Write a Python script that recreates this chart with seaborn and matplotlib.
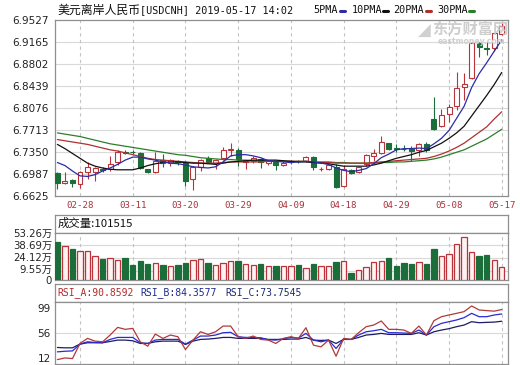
import numpy as np
import pandas as pd
import matplotlib
matplotlib.use("Agg")
import matplotlib.pyplot as plt
import matplotlib.transforms as mtransforms
import seaborn as sns

# ---- data ----
dates = pd.bdate_range("2019-02-25", "2019-05-17")
tick_pos = [3, 10, 17, 24, 31, 38, 45, 52, 59]
tick_labels = ["02-28", "03-11", "03-20", "03-29", "04-09", "04-18", "04-29", "05-08", "05-17"]

price_ticks = [6.6625, 6.6987, 6.7350, 6.7713, 6.8076, 6.8439, 6.8802, 6.9165, 6.9527]

opens = [6.7003, 6.6830, 6.6875, 6.6820, 6.7020, 6.7010, 6.7070, 6.7060, 6.7180, 6.7350,
         6.7350, 6.7330, 6.7060, 6.7020, 6.7220, 6.7160, 6.7190, 6.7160, 6.6890, 6.7100,
         6.7240, 6.7160, 6.7240, 6.7370, 6.7380, 6.7180, 6.7190, 6.7230, 6.7160, 6.7180,
         6.7130, 6.7180, 6.7200, 6.7190, 6.7260, 6.7060, 6.7060, 6.7100, 6.6780, 6.7050,
         6.7010, 6.7140, 6.7270, 6.7330, 6.7490, 6.7405, 6.7400, 6.7410, 6.7370, 6.7480,
         6.7890, 6.7770, 6.7980, 6.8110, 6.8420, 6.8570, 6.9150, 6.9060, 6.9060, 6.9300]
highs = [6.7015, 6.7010, 6.6895, 6.7030, 6.7180, 6.7100, 6.7100, 6.7270, 6.7370, 6.7370,
         6.7380, 6.7350, 6.7070, 6.7350, 6.7310, 6.7230, 6.7220, 6.7200, 6.7110, 6.7230,
         6.7280, 6.7230, 6.7420, 6.7500, 6.7410, 6.7210, 6.7270, 6.7240, 6.7220, 6.7200,
         6.7200, 6.7210, 6.7220, 6.7270, 6.7280, 6.7090, 6.7150, 6.7150, 6.7130, 6.7060,
         6.7110, 6.7310, 6.7400, 6.7610, 6.7500, 6.7480, 6.7460, 6.7440, 6.7490, 6.7510,
         6.8250, 6.8050, 6.8140, 6.8660, 6.8650, 6.9160, 6.9170, 6.9160, 6.9320, 6.9480]
lows = [6.6735, 6.6820, 6.6760, 6.6750, 6.6890, 6.6860, 6.7020, 6.7030, 6.7130, 6.7310,
        6.7310, 6.7060, 6.6990, 6.7000, 6.7100, 6.7120, 6.7130, 6.6790, 6.6710, 6.7030,
        6.7160, 6.7070, 6.7220, 6.7270, 6.7120, 6.7070, 6.7170, 6.7080, 6.7130, 6.7040,
        6.7110, 6.7150, 6.7170, 6.7180, 6.7040, 6.7030, 6.7040, 6.6750, 6.6760, 6.6980,
        6.6990, 6.7110, 6.7200, 6.7310, 6.7370, 6.7340, 6.7360, 6.7200, 6.7280, 6.7350,
        6.7700, 6.7750, 6.7840, 6.8040, 6.8200, 6.8550, 6.8910, 6.8950, 6.9010, 6.9280]
closes = [6.6835, 6.6862, 6.6830, 6.7010, 6.7100, 6.7080, 6.7050, 6.7150, 6.7340, 6.7335,
          6.7340, 6.7080, 6.7010, 6.7200, 6.7170, 6.7210, 6.7180, 6.6870, 6.7090, 6.7210,
          6.7180, 6.7210, 6.7380, 6.7390, 6.7230, 6.7190, 6.7250, 6.7180, 6.7200, 6.7130,
          6.7170, 6.7190, 6.7190, 6.7260, 6.7090, 6.7070, 6.7130, 6.6760, 6.7070, 6.7000,
          6.7090, 6.7290, 6.7330, 6.7510, 6.7400, 6.7395, 6.7390, 6.7360, 6.7480, 6.7370,
          6.7730, 6.7960, 6.8090, 6.8400, 6.8470, 6.9140, 6.9080, 6.9040, 6.9310, 6.9430]

ma5 = [6.717, 6.712, 6.703, 6.695, 6.694, 6.697, 6.703, 6.708, 6.714, 6.721,
       6.726, 6.726, 6.723, 6.721, 6.718, 6.716, 6.715, 6.713, 6.710, 6.709,
       6.708, 6.710, 6.718, 6.728, 6.730, 6.730, 6.728, 6.725, 6.720, 6.719,
       6.718, 6.717, 6.718, 6.719, 6.718, 6.716, 6.714, 6.708, 6.704, 6.702,
       6.704, 6.707, 6.715, 6.725, 6.731, 6.738, 6.740, 6.740, 6.741, 6.740,
       6.748, 6.757, 6.770, 6.790, 6.810, 6.841, 6.864, 6.882, 6.901, 6.920]
ma10 = [6.747, 6.740, 6.732, 6.724, 6.716, 6.711, 6.708, 6.706, 6.705, 6.705,
        6.705, 6.708, 6.712, 6.715, 6.717, 6.718, 6.718, 6.717, 6.716, 6.716,
        6.715, 6.714, 6.716, 6.718, 6.719, 6.720, 6.721, 6.721, 6.721, 6.721,
        6.720, 6.719, 6.718, 6.718, 6.717, 6.716, 6.715, 6.713, 6.711, 6.711,
        6.711, 6.711, 6.713, 6.716, 6.720, 6.724, 6.727, 6.730, 6.734, 6.737,
        6.743, 6.749, 6.757, 6.766, 6.777, 6.794, 6.811, 6.828, 6.846, 6.866]
ma20 = [6.755, 6.753, 6.751, 6.749, 6.747, 6.744, 6.741, 6.738, 6.736, 6.733,
        6.730, 6.727, 6.724, 6.722, 6.721, 6.720, 6.719, 6.718, 6.717, 6.716,
        6.716, 6.716, 6.717, 6.718, 6.718, 6.718, 6.718, 6.718, 6.719, 6.719,
        6.719, 6.719, 6.719, 6.719, 6.718, 6.717, 6.717, 6.716, 6.716, 6.716,
        6.716, 6.716, 6.717, 6.718, 6.719, 6.720, 6.721, 6.722, 6.723, 6.724,
        6.727, 6.731, 6.736, 6.742, 6.749, 6.758, 6.767, 6.776, 6.789, 6.801]
ma30 = [6.766, 6.764, 6.762, 6.760, 6.757, 6.754, 6.751, 6.748, 6.746, 6.744,
        6.742, 6.740, 6.738, 6.736, 6.734, 6.732, 6.730, 6.729, 6.727, 6.725,
        6.724, 6.723, 6.722, 6.722, 6.721, 6.721, 6.720, 6.720, 6.719, 6.719,
        6.719, 6.719, 6.719, 6.719, 6.718, 6.718, 6.718, 6.717, 6.717, 6.716,
        6.716, 6.716, 6.716, 6.717, 6.717, 6.718, 6.718, 6.719, 6.720, 6.721,
        6.723, 6.726, 6.730, 6.734, 6.738, 6.744, 6.750, 6.756, 6.764, 6.772]

# volume in 万
volume = [43.0, 38.3, 34.9, 32.7, 32.7, 27.0, 23.6, 24.8, 22.5, 25.1,
          16.9, 21.8, 18.0, 19.5, 16.9, 15.8, 16.9, 19.5, 22.5, 23.6,
          19.5, 16.9, 19.5, 21.4, 21.4, 18.0, 16.9, 18.0, 15.8, 15.8,
          15.8, 15.8, 16.9, 13.1, 18.0, 15.8, 15.8, 20.6, 21.4, 7.5,
          11.3, 14.3, 20.6, 21.4, 24.4, 15.8, 19.5, 18.0, 19.9, 18.0,
          34.9, 27.0, 29.3, 40.5, 48.0, 31.9, 27.0, 28.1, 22.5, 14.3]
vol_ticks = [0, 9.55, 24.12, 38.69, 53.26]
vol_labels = ["0", "9.55万", "24.12万", "38.69万", "53.26万"]

rsi_a = [17.7, 20.1, 19.2, 41.3, 48.7, 44.7, 43.7, 53.6, 64.8, 61.9,
         63.3, 43.7, 37.3, 55.0, 48.7, 53.6, 51.1, 32.4, 46.2, 58.4,
         54.5, 58.4, 66.7, 66.7, 51.1, 48.7, 52.1, 47.2, 46.2, 41.3,
         48.7, 51.1, 48.7, 64.3, 38.8, 36.3, 46.2, 22.6, 48.7, 47.2,
         57.0, 65.8, 68.2, 74.1, 61.9, 61.9, 60.9, 56.0, 66.7, 53.6,
         74.6, 80.4, 82.9, 85.3, 87.8, 96.1, 90.2, 89.3, 88.5, 90.86]
rsi_b = [29.0, 29.9, 30.4, 40.3, 43.7, 42.8, 42.3, 47.2, 50.1, 50.1,
         50.1, 42.3, 41.3, 46.2, 47.2, 47.2, 47.2, 40.3, 46.2, 52.1,
         52.1, 53.6, 57.0, 57.5, 51.1, 50.1, 50.1, 49.6, 46.7, 46.2,
         48.2, 50.1, 49.1, 56.0, 46.2, 43.7, 46.2, 34.0, 47.2, 47.2,
         53.6, 58.4, 59.9, 61.9, 57.0, 57.0, 56.5, 56.0, 60.9, 53.6,
         65.8, 70.7, 73.1, 75.6, 79.0, 85.3, 80.4, 80.4, 82.9, 84.36]
rsi_c = [35.4, 34.9, 34.9, 40.3, 42.3, 42.3, 42.3, 44.2, 46.2, 46.2,
         45.2, 41.3, 41.3, 43.7, 44.7, 44.7, 44.7, 39.8, 44.7, 47.2,
         47.7, 48.7, 50.1, 50.1, 48.7, 48.7, 48.7, 48.7, 47.2, 47.2,
         47.2, 47.7, 47.7, 50.1, 46.2, 45.7, 46.2, 41.3, 47.2, 47.2,
         50.1, 53.6, 54.5, 56.0, 54.5, 54.5, 54.5, 54.5, 57.0, 53.6,
         58.4, 60.9, 62.9, 65.8, 68.2, 73.1, 71.6, 72.1, 72.5, 73.75]
rsi_ticks = [12, 56, 99]

# ---- style ----
RED = "#b8333a"
GREEN = "#1b6e3a"
GRID = "#d9d9d9"
DASH = "#c4c4c4"
BORDER = "#8f8f8f"
DATE_RED = "#a8323a"

sns.set_theme(style="white")
plt.rcParams["font.family"] = ["DejaVu Sans", "Noto Sans CJK SC"]

W, H = 520, 365
fig = plt.figure(figsize=(W / 100, H / 100), dpi=100)
fig.patch.set_facecolor("white")


def box(x0, y0, x1, y1):
    return [x0 / W, 1 - y1 / H, (x1 - x0) / W, (y1 - y0) / H]


def ftext(x, y, s, **kw):
    fig.text(x / W, 1 - y / H, s, va="center", **kw)


def nudge(label, dy_px):
    # shift a tick label up (positive) by a few pixels
    off = mtransforms.ScaledTranslation(0, dy_px / 100, fig.dpi_scale_trans)
    label.set_transform(label.get_transform() + off)


idx = np.arange(len(dates))
XLIM = (-0.32, 59.83)


def frame(ax):
    ax.set_xlim(*XLIM)
    ax.set_facecolor("white")
    for sp in ax.spines.values():
        sp.set_color(BORDER)
        sp.set_linewidth(0.9)
    ax.grid(False)


def dashed_vlines(ax, lo, hi):
    ax.vlines(tick_pos, lo, hi, colors=DASH, linewidth=0.8,
              linestyles=(0, (3, 3)), zorder=1)


# ---- price panel ----
ax = fig.add_axes(box(55, 20, 508, 195.5))
frame(ax)
ax.set_ylim(price_ticks[0], price_ticks[-1])
ax.hlines(price_ticks[1:-1], *XLIM, colors=GRID, linewidth=0.8, zorder=1)
dashed_vlines(ax, price_ticks[0], price_ticks[-1])

o, h, l, c = map(np.array, (opens, highs, lows, closes))
up = c >= o
body_lo = np.minimum(o, c)
body_h = np.maximum(np.abs(c - o), 0.0005)
ax.vlines(idx, l, h, colors=np.where(up, RED, GREEN), linewidth=0.8, zorder=3)
ax.bar(idx[up], body_h[up], bottom=body_lo[up], width=0.66,
       facecolor="white", edgecolor=RED, linewidth=0.8, zorder=4)
ax.bar(idx[~up], body_h[~up], bottom=body_lo[~up], width=0.66,
       facecolor=GREEN, edgecolor=GREEN, linewidth=0.8, zorder=4)

ma_df = pd.DataFrame({"i": idx, "ma5": ma5, "ma10": ma10, "ma20": ma20, "ma30": ma30})
for col, colr in [("ma30", "#2b7f2b"), ("ma20", "#b03030"), ("ma10", "#111111"), ("ma5", "#2c2ca8")]:
    sns.lineplot(data=ma_df, x="i", y=col, ax=ax, color=colr, linewidth=0.9,
                 legend=False, zorder=5)

ax.set_yticks(price_ticks)
ax.set_yticklabels([f"{v:.4f}" for v in price_ticks], fontsize=7.5, color="#222222")
nudge(ax.get_yticklabels()[-1], -2)
ax.set_xticks(tick_pos)
ax.set_xticklabels(tick_labels, fontsize=6.6, color=DATE_RED, family="DejaVu Sans Mono")
ax.tick_params(axis="y", length=3, width=0.8, color=BORDER, pad=1.5)
ax.tick_params(axis="x", length=0, pad=4)
ax.set_xlabel("")
ax.set_ylabel("")

# watermark
ftext(470, 29, "东方财富网", fontsize=11, color="#c9c9c9", ha="center",
      family=["Noto Sans CJK SC"], fontweight="bold", alpha=0.9)
ftext(471, 41, "eastmoney.com", fontsize=5.5, color="#cfcfcf", ha="center", fontweight="bold")
ftext(424, 31, "◢", fontsize=12, color="#d0d0d0", ha="center", family=["DejaVu Sans"])

# title + legend
ftext(57, 10, "美元离岸人民币", fontsize=8.6, color="#111111", family=["Noto Sans CJK SC"])
ftext(140, 10, "[USDCNH] 2019-05-17 14:02", fontsize=7.3, color="#111111", family="DejaVu Sans Mono")
leg = [("5PMA", 313, 340, "#2c2ca8"), ("10PMA", 352, 383, "#111111"),
       ("20PMA", 393, 426, "#b03030"), ("30PMA", 437, 469, "#2b7f2b")]
for name, xt, xd, colr in leg:
    ftext(xt, 10, name, fontsize=7.3, color="#111111", family="DejaVu Sans Mono")
    fig.add_artist(plt.Line2D([xd / W, (xd + 5) / W], [1 - 10.5 / H] * 2,
                              color=colr, linewidth=2.2, transform=fig.transFigure))

# ---- volume panel ----
axvh = fig.add_axes(box(55, 215, 508, 232.5))
frame(axvh)
axvh.set_xticks([])
axvh.set_yticks([])
ftext(58, 223.5, "成交量:101515", fontsize=8.2, color="#111111", family=["Noto Sans CJK SC"])

axv = fig.add_axes(box(55, 232.5, 508, 280))
frame(axv)
axv.set_ylim(0, vol_ticks[-1])
axv.hlines(vol_ticks[1:-1], *XLIM, colors=GRID, linewidth=0.8, zorder=1)
dashed_vlines(axv, 0, vol_ticks[-1])
vol = np.array(volume)
axv.bar(idx[up], vol[up], width=0.72, facecolor="#fff2f2", edgecolor=RED, linewidth=0.9, zorder=3)
axv.bar(idx[~up], vol[~up], width=0.72, facecolor=GREEN, edgecolor=GREEN, linewidth=0.9, zorder=3)
axv.set_xticks([])
axv.set_yticks(vol_ticks)
axv.set_yticklabels(vol_labels, fontsize=7.3, color="#222222")
axv.tick_params(axis="y", length=0, pad=2)
for lab, dy in zip(axv.get_yticklabels(), [-0.5, 3, 2, 1, -0.5]):
    nudge(lab, dy)

# ---- RSI panel ----
axrh = fig.add_axes(box(55, 283.5, 508, 301.5))
frame(axrh)
axrh.set_xticks([])
axrh.set_yticks([])
ftext(57, 292.5, "RSI_A:90.8592", fontsize=7.0, color="#b22a2a", family="DejaVu Sans Mono")
ftext(140, 292.5, "RSI_B:84.3577", fontsize=7.0, color="#1c2a8c", family="DejaVu Sans Mono")
ftext(225, 292.5, "RSI_C:73.7545", fontsize=7.0, color="#1c2a6c", family="DejaVu Sans Mono")

axr = fig.add_axes(box(55, 301.5, 508, 363.5))
frame(axr)
axr.set_ylim(12, 102.6)
axr.hlines([56], *XLIM, colors=GRID, linewidth=0.8, zorder=1)
dashed_vlines(axr, 12, 102.6)
rsi_df = pd.DataFrame({"i": idx, "a": rsi_a, "b": rsi_b, "c": rsi_c})
for col, colr in [("c", "#1c1c66"), ("b", "#2a2ad0"), ("a", "#b03a3a")]:
    sns.lineplot(data=rsi_df, x="i", y=col, ax=axr, color=colr, linewidth=0.9,
                 legend=False, zorder=4)
axr.set_xticks([])
axr.set_yticks(rsi_ticks)
axr.set_yticklabels([str(v) for v in rsi_ticks], fontsize=7.5, color="#222222")
axr.tick_params(axis="y", length=0, pad=3)
labs = axr.get_yticklabels()
labs[0].set_va("bottom")
labs[2].set_va("top")
axr.set_xlabel("")
axr.set_ylabel("")
axv.set_xlabel("")

fig.savefig("out.png", dpi=100, facecolor="white")
